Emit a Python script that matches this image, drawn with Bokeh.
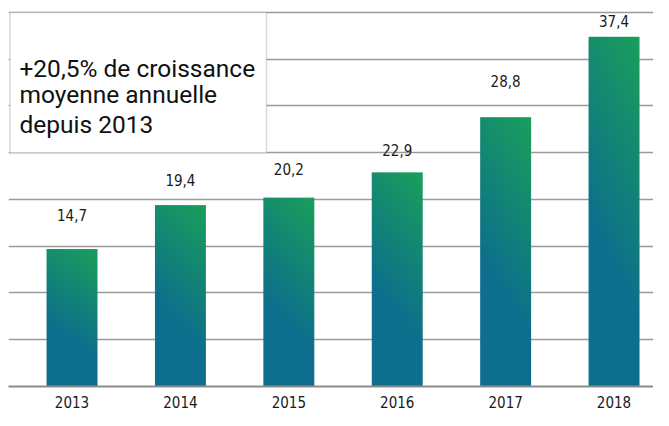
import numpy as np
from bokeh.plotting import figure
from bokeh.models import Range1d, FixedTicker, BoxAnnotation, Label, ColumnDataSource
from bokeh.embed import file_html
from bokeh.resources import INLINE

# ---- data ----
years = ["2013", "2014", "2015", "2016", "2017", "2018"]
values = [14.7, 19.4, 20.2, 22.9, 28.8, 37.4]
value_labels = ["14,7", "19,4", "20,2", "22,9", "28,8", "37,4"]
grid_values = [5, 10, 15, 20, 25, 30, 35, 40]
headline = ["+20,5% de croissance", "moyenne annuelle", "depuis 2013"]

# ---- style ----
label_lift_px = [34, 25, 29, 22, 36, 16]
NARROW = "'Liberation Sans Narrow', 'DejaVu Sans Condensed', sans-serif"
BLUE = np.array([13, 111, 141])
GREEN = np.array([26, 158, 92])
BAR_W = 0.47

p = figure(width=653, height=410, output_backend="svg", toolbar_location=None,
           x_range=Range1d(-0.586, 5.364), y_range=Range1d(0, 40.424),
           min_border_left=8, min_border_right=0, min_border_top=8, min_border_bottom=21)
p.outline_line_color = None
p.background_fill_color = "white"
p.xgrid.grid_line_color = None
p.yaxis.visible = False
p.ygrid.ticker = FixedTicker(ticks=grid_values)
p.ygrid.grid_line_color = "#9a9a9a"
p.ygrid.grid_line_width = 1.6

# gradient bars drawn as images
ny, nx = 256, 48
vv, uu = np.mgrid[0:ny, 0:nx]
v = vv / (ny - 1)
u = uu / (nx - 1)
imgs, xs, ws, hs = [], [], [], []
for i, val in enumerate(values):
    t = np.clip((0.85 * v + 0.25 * u - 0.40) / 0.68, 0, 1)
    rgb = BLUE[None, None, :] * (1 - t[..., None]) + GREEN[None, None, :] * t[..., None]
    arr = np.zeros((ny, nx, 4), dtype=np.uint8)
    arr[..., :3] = rgb.astype(np.uint8)
    arr[..., 3] = 255
    imgs.append(arr.view(np.uint32).reshape(ny, nx))
    xs.append(i - BAR_W / 2)
    ws.append(BAR_W)
    hs.append(val)
p.image_rgba(image=imgs, x=xs, y=[0] * len(values), dw=ws, dh=hs)

# value labels
src = ColumnDataSource(dict(x=list(range(len(values))), y=values, t=value_labels,
                            off=[-o for o in label_lift_px]))
p.text(x="x", y="y", text="t", y_offset="off", source=src, text_align="center",
       text_baseline="middle", text_font_size="15px", text_color="#1a1a1a",
       text_font={"value": NARROW})

# x axis
p.xaxis.ticker = FixedTicker(ticks=list(range(len(years))))
p.xaxis.major_label_overrides = {i: y for i, y in enumerate(years)}
p.xaxis.major_tick_line_color = None
p.xaxis.minor_tick_line_color = None
p.xaxis.axis_line_color = "#8c8c8c"
p.xaxis.axis_line_width = 2
p.xaxis.major_label_text_font = NARROW
p.xaxis.major_label_text_font_size = "15px"
p.xaxis.major_label_text_color = "#1a1a1a"
p.xaxis.major_label_standoff = 3

# headline box
p.add_layout(BoxAnnotation(left=-0.572, right=1.794, bottom=grid_values[4], top=grid_values[-1],
                           fill_color="white", fill_alpha=1.0,
                           line_color="#8a8a8a", line_width=1.6))
for txt, yy in zip(headline, [34.06, 31.19, 28.01]):
    p.add_layout(Label(x=-0.485, y=yy, text=txt, text_font="Roboto", text_font_size="24.5px",
                       text_color="#111111", text_baseline="alphabetic"))

open("out.html", "w").write(file_html(p, INLINE))
